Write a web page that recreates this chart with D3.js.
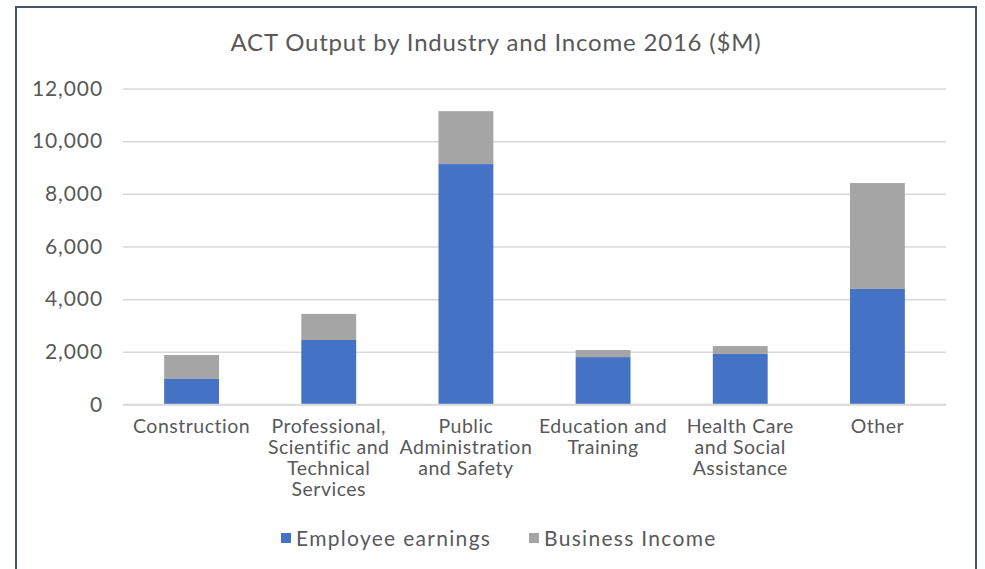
<!DOCTYPE html>
<html>
<head>
<meta charset="utf-8">
<script src="https://cdn.jsdelivr.net/npm/d3@7"></script>
<style>
  body { margin: 0; background: #fff; }
  #chart { width: 985px; height: 569px; }
  text { font-family: Lato, "Open Sans", sans-serif; fill: #595959; }
</style>
</head>
<body>
<div id="chart"></div>
<script>
// data
const categories = [
  'Construction',
  'Professional, Scientific and Technical Services',
  'Public Administration and Safety',
  'Education and Training',
  'Health Care and Social Assistance',
  'Other'
]
const categoryLines = [
  ['Construction'],
  ['Professional,', 'Scientific and', 'Technical', 'Services'],
  ['Public', 'Administration', 'and Safety'],
  ['Education and', 'Training'],
  ['Health Care', 'and Social', 'Assistance'],
  ['Other']
]
const employeeEarnings = [970, 2450, 9130, 1800, 1920, 4390]
const businessIncome = [910, 990, 2010, 270, 300, 4020]
const seriesNames = ['Employee earnings', 'Business Income']
const seriesColors = ['#4472C4', '#A5A5A5']
const yTicks = [0, 2000, 4000, 6000, 8000, 10000, 12000]

const dimensions = {
  width: 985,
  height: 569,
  margin: { top: 88.5, right: 39, bottom: 164.5, left: 123 }
}
dimensions.ctrWidth = dimensions.width - dimensions.margin.left - dimensions.margin.right
dimensions.ctrHeight = dimensions.height - dimensions.margin.top - dimensions.margin.bottom

const svg = d3.select('#chart')
  .append('svg')
  .attr('width', dimensions.width)
  .attr('height', dimensions.height)

// frame
svg.append('path')
  .attr('d', 'M16,575 V7 H976 V575')
  .attr('fill', 'none')
  .attr('stroke', '#44546A')
  .attr('stroke-width', 2)

// title
svg.append('text')
  .attr('x', 496)
  .attr('y', 51)
  .attr('text-anchor', 'middle')
  .style('font-size', '24px')
  .style('letter-spacing', '0.8px')
  .text('ACT Output by Industry and Income 2016 ($M)')

const ctr = svg.append('g')
  .attr('transform', `translate(${dimensions.margin.left}, ${dimensions.margin.top})`)

// scales
const xScale = d3.scaleBand()
  .domain(categories)
  .range([0, dimensions.ctrWidth])
  .paddingInner(0.6)
  .paddingOuter(0.3)

const yScale = d3.scaleLinear()
  .domain([0, 12000])
  .range([dimensions.ctrHeight, 0])

// gridlines
const yAxis = d3.axisLeft(yScale)
  .tickValues(yTicks)
  .tickSize(-dimensions.ctrWidth)
  .tickPadding(20)
  .tickFormat(d3.format(','))

const yAxisGroup = ctr.append('g').call(yAxis)
yAxisGroup.select('.domain').remove()
yAxisGroup.selectAll('line')
  .attr('stroke', '#D9D9D9')
  .attr('stroke-width', 1.5)
yAxisGroup.selectAll('text')
  .style('font-size', '21px')
  .style('letter-spacing', '0.9px')
  .attr('fill', '#595959')

// stacked bars
const table = categories.map((c, i) => ({
  category: c,
  [seriesNames[0]]: employeeEarnings[i],
  [seriesNames[1]]: businessIncome[i]
}))
const stacked = d3.stack().keys(seriesNames)(table)

ctr.selectAll('g.series')
  .data(stacked)
  .join('g')
  .attr('class', 'series')
  .attr('fill', (d, i) => seriesColors[i])
  .selectAll('rect')
  .data(d => d)
  .join('rect')
  .attr('x', d => xScale(d.data.category))
  .attr('y', d => yScale(d[1]))
  .attr('width', xScale.bandwidth())
  .attr('height', d => yScale(d[0]) - yScale(d[1]))

// baseline
ctr.append('line')
  .attr('x1', 0)
  .attr('x2', dimensions.ctrWidth)
  .attr('y1', yScale(0))
  .attr('y2', yScale(0))
  .attr('stroke', '#D9D9D9')
  .attr('stroke-width', 1.5)

// category labels
const xLabels = ctr.append('g')
  .selectAll('text')
  .data(categories)
  .join('text')
  .attr('x', d => xScale(d) + xScale.bandwidth() / 2)
  .attr('y', dimensions.ctrHeight + 28)
  .attr('text-anchor', 'middle')
  .style('font-size', '19.5px')
  .style('letter-spacing', '0.5px')

xLabels.selectAll('tspan')
  .data((d, i) => categoryLines[i])
  .join('tspan')
  .attr('x', function () { return this.parentNode.getAttribute('x') })
  .attr('dy', (d, i) => i === 0 ? 0 : 21.3)
  .text(d => d)

// legend
const legendX = [281, 529]
const legend = svg.append('g')
  .selectAll('g')
  .data(seriesNames)
  .join('g')
  .attr('transform', (d, i) => `translate(${legendX[i]}, 533)`)

legend.append('rect')
  .attr('width', 10)
  .attr('height', 10)
  .attr('fill', (d, i) => seriesColors[i])

legend.append('text')
  .attr('x', 15)
  .attr('y', 13)
  .style('font-size', '21px')
  .style('letter-spacing', '1.3px')
  .text(d => d)
</script>
</body>
</html>
